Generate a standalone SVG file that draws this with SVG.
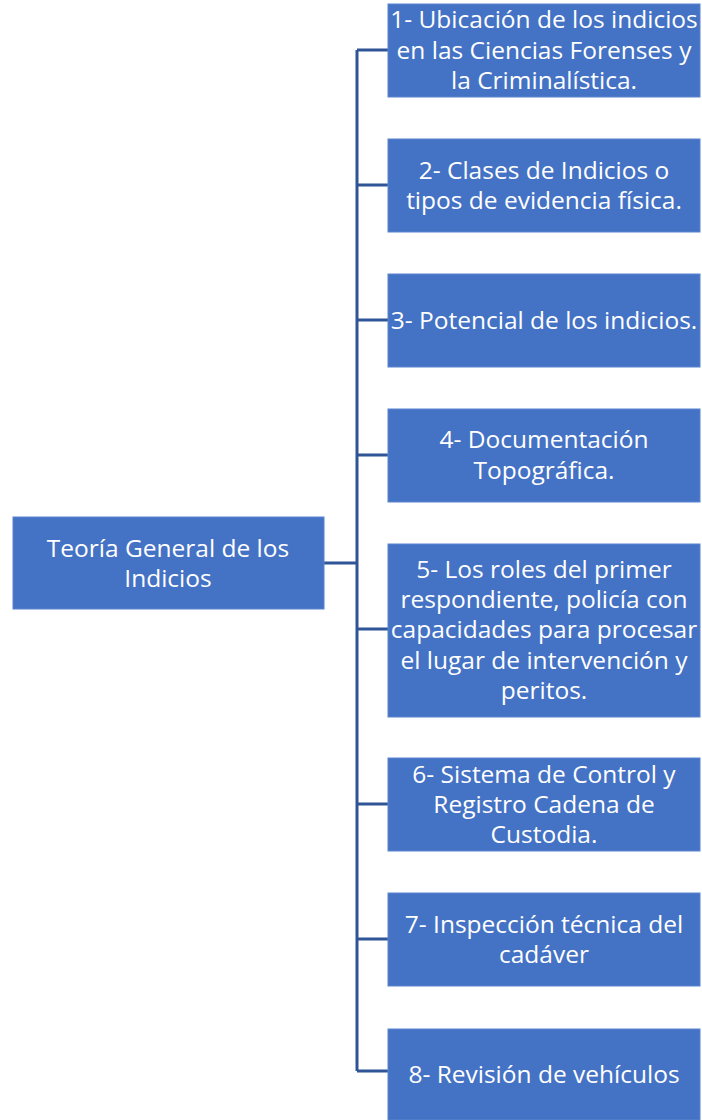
<svg xmlns="http://www.w3.org/2000/svg" width="702" height="1120" viewBox="0 0 702 1120">
<style>
.box{fill:#4472C4;stroke:#5B84CF;stroke-width:1}
.t{font-family:"Open Sans",Lato,"Liberation Sans",sans-serif;font-size:24.5px;fill:#FFFFFF;text-anchor:middle}
.c{fill:none;stroke:#2F5597;stroke-width:3}
</style>
<rect width="702" height="1120" fill="#FFFFFF"/>
<g id="connectors">
<path class="c" d="M324,563 H357 M357,50 V1071 M357,50 H388 M357,185 H388 M357,320 H388 M357,455 H388 M357,629 H388 M357,804 H388 M357,939 H388 M357,1071 H388"/>
</g>
<g id="root">
<rect class="box" x="13" y="517" width="311" height="92"/>
<text class="t"><tspan x="168" y="557">Teoría General de los</tspan><tspan x="168" y="587">Indicios</tspan></text>
</g>
<g id="n1">
<rect class="box" x="388" y="4" width="312" height="93"/>
<text class="t"><tspan x="544" y="28">1- Ubicación de los indicios</tspan><tspan x="544" y="59">en las Ciencias Forenses y</tspan><tspan x="544" y="89">la Criminalística.</tspan></text>
</g>
<g id="n2">
<rect class="box" x="388" y="139" width="312" height="93"/>
<text class="t"><tspan x="544" y="179">2- Clases de Indicios o</tspan><tspan x="544" y="209">tipos de evidencia física.</tspan></text>
</g>
<g id="n3">
<rect class="box" x="388" y="274" width="312" height="93"/>
<text class="t"><tspan x="544" y="329">3- Potencial de los indicios.</tspan></text>
</g>
<g id="n4">
<rect class="box" x="388" y="409" width="312" height="93"/>
<text class="t"><tspan x="544" y="448">4- Documentación</tspan><tspan x="544" y="479">Topográfica.</tspan></text>
</g>
<g id="n5">
<rect class="box" x="388" y="544" width="312" height="173"/>
<text class="t"><tspan x="544" y="578">5- Los roles del primer</tspan><tspan x="544" y="608">respondiente, policía con</tspan><tspan x="544" y="638">capacidades para procesar</tspan><tspan x="544" y="669">el lugar de intervención y</tspan><tspan x="544" y="699">peritos.</tspan></text>
</g>
<g id="n6">
<rect class="box" x="388" y="758" width="312" height="93"/>
<text class="t"><tspan x="544" y="783">6- Sistema de Control y</tspan><tspan x="544" y="813">Registro Cadena de</tspan><tspan x="544" y="843">Custodia.</tspan></text>
</g>
<g id="n7">
<rect class="box" x="388" y="893" width="312" height="93"/>
<text class="t"><tspan x="544" y="933">7- Inspección técnica del</tspan><tspan x="544" y="963">cadáver</tspan></text>
</g>
<g id="n8">
<rect class="box" x="388" y="1029" width="312" height="91"/>
<text class="t"><tspan x="544" y="1083">8- Revisión de vehículos</tspan></text>
</g>
</svg>
